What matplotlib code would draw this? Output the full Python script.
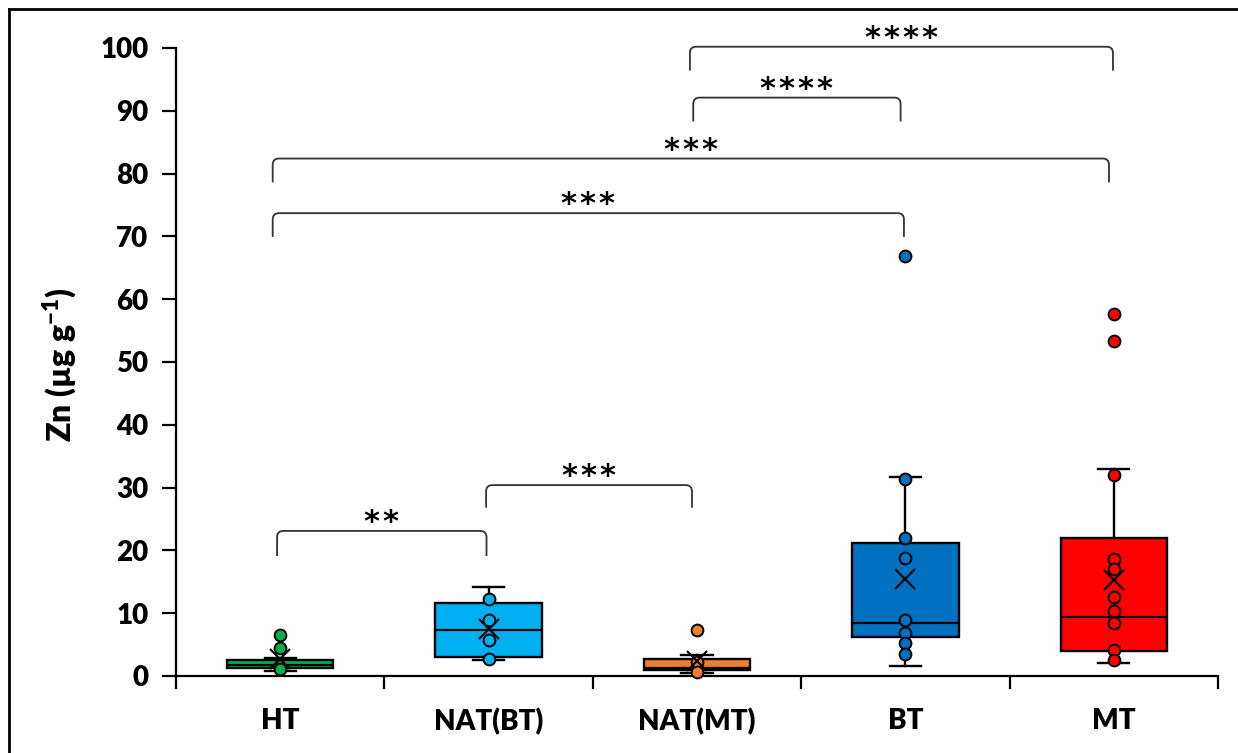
import numpy as np
import matplotlib
matplotlib.use("Agg")
import matplotlib.pyplot as plt
from matplotlib.lines import Line2D
from matplotlib.path import Path
from matplotlib.patches import PathPatch

WEIGHT = "heavy"
plt.rcParams["font.family"] = ["Lato", "DejaVu Sans"]
plt.rcParams["font.weight"] = WEIGHT
plt.rcParams["mathtext.fontset"] = "custom"
plt.rcParams["mathtext.rm"] = "Lato:heavy"
plt.rcParams["mathtext.bf"] = "Lato:heavy"

# ---- data ----------------------------------------------------------------
groups = ["HT", "NAT(BT)", "NAT(MT)", "BT", "MT"]
colors = ["#00B050", "#00B0F0", "#ED7D31", "#0070C0", "#FF0000"]

q1 = [1.2, 3.0, 0.9, 6.2, 4.0]
median = [1.75, 7.3, 1.2, 8.5, 9.4]
q3 = [2.5, 11.6, 2.7, 21.1, 21.9]
whis_lo = [0.8, 2.5, 0.5, 1.6, 2.0]
whis_hi = [2.9, 14.2, 3.4, 31.7, 32.9]
means = [2.7, 7.5, 2.4, 15.4, 15.3]

pts_ht = [6.5, 4.4, 1.1]
pts_natbt = [12.2, 8.9, 5.7, 2.7]
pts_natmt = [7.3, 2.3, 0.7]
pts_bt = [66.9, 31.3, 21.9, 18.8, 8.9, 6.9, 5.3, 3.5]
pts_mt = [57.6, 53.3, 32.0, 18.6, 17.0, 12.6, 10.3, 8.5, 4.1, 2.5]
points = [pts_ht, pts_natbt, pts_natmt, pts_bt, pts_mt]

# significance brackets: (x left, x right, top, drop, label)
brackets = [
    (0.985, 1.99, 23.1, 19.1, "**"),
    (1.988, 2.976, 30.4, 26.8, "***"),
    (0.964, 3.993, 73.7, 69.9, "***"),
    (0.964, 4.977, 82.4, 78.6, "***"),
    (2.982, 3.977, 92.1, 88.3, "****"),
    (2.966, 4.996, 100.2, 96.4, "****"),
]

# ---- figure --------------------------------------------------------------
W, H = 1238, 753
fig = plt.figure(figsize=(W / 100, H / 100), dpi=100)
ax = fig.add_axes([176 / W, 1 - 676 / H, (1218 - 176) / W, (676 - 48) / H])

pos = np.arange(1, len(groups) + 1)
stats = []
for i in range(len(groups)):
    stats.append(dict(q1=q1[i], med=median[i], q3=q3[i], whislo=whis_lo[i],
                      whishi=whis_hi[i], mean=means[i], fliers=[]))

bp = ax.bxp(stats, positions=pos, widths=0.51, patch_artist=True,
            showmeans=True, showfliers=False,
            boxprops=dict(lw=1.7, edgecolor="black"),
            medianprops=dict(color="black", lw=1.6),
            whiskerprops=dict(color="black", lw=1.7),
            capprops=dict(color="black", lw=1.7),
            meanprops=dict(marker="x", markersize=15, markeredgecolor="black",
                           markeredgewidth=1.5),
            capwidths=0.15)
for patch, c in zip(bp["boxes"], colors):
    patch.set_facecolor(c)
for m in bp["means"]:
    m.set_zorder(6)

for i, vals in enumerate(points):
    ax.plot(np.full(len(vals), pos[i]), vals, "o", ms=8.5, mfc=colors[i],
            mec="black", mew=1.4, zorder=5, clip_on=False)

# ---- brackets ------------------------------------------------------------
rx, ry = 0.03, 1.0
for x0, x1, top, low, lab in brackets:
    verts = [(x0, low), (x0, top - ry), (x0, top), (x0 + rx, top),
             (x1 - rx, top), (x1, top), (x1, top - ry), (x1, low)]
    codes = [Path.MOVETO, Path.LINETO, Path.CURVE3, Path.CURVE3,
             Path.LINETO, Path.CURVE3, Path.CURVE3, Path.LINETO]
    ax.add_patch(PathPatch(Path(verts, codes), fill=False, ec="#333333",
                           lw=1.3, clip_on=False))
    ax.text((x0 + x1) / 2, top, "\u200a".join(lab), ha="center",
            va="baseline", fontsize=22, fontweight="bold",
            family="DejaVu Sans", color="black")

# ---- axes ----------------------------------------------------------------
ax.set_xlim(0.5, len(groups) + 0.5)
ax.set_ylim(0, 100)
ax.set_yticks(np.arange(0, 101, 10))
ax.set_xticks(np.arange(0.5, len(groups) + 1, 1))
ax.set_xticklabels([])
ax.set_xticks(pos, minor=True)
ax.set_xticklabels(groups, minor=True, fontweight=WEIGHT)
ax.tick_params(axis="x", which="major", direction="out", length=9, width=1.6)
ax.tick_params(axis="x", which="minor", length=0, pad=23, labelsize=20)
ax.tick_params(axis="y", direction="out", length=10, width=1.6, pad=10,
               labelsize=20)
for lab in ax.get_yticklabels():
    lab.set_fontweight(WEIGHT)
for s in ["top", "right"]:
    ax.spines[s].set_visible(False)
for s in ["left", "bottom"]:
    ax.spines[s].set_linewidth(1.6)

fig.text(60 / W, 1 - 365 / H, r"Zn (µg g$^{-1}$)", rotation=90,
         ha="center", va="center", fontsize=23, fontweight=WEIGHT)

# outer frame (left and top edges only, as in the reference)
fig.add_artist(Line2D([9 / W, 9 / W], [0, 1 - 9 / H], color="black", lw=2))
fig.add_artist(Line2D([9 / W, 1], [1 - 9 / H, 1 - 9 / H], color="black", lw=2))

fig.savefig("out.png", dpi=100, facecolor="white")
